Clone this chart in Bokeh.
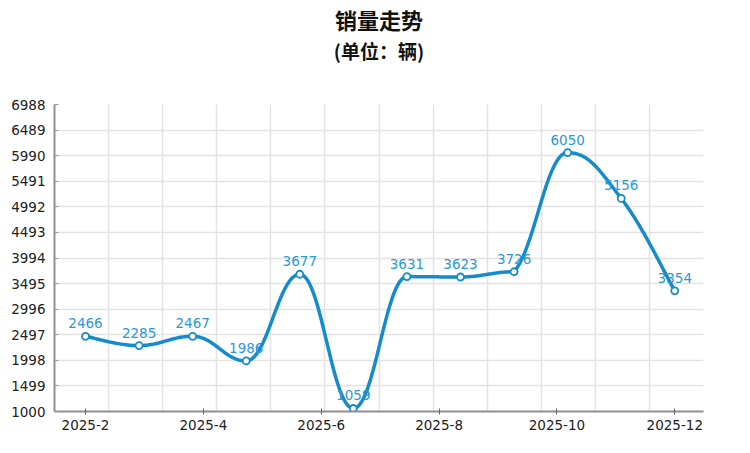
import numpy as np
from bokeh.plotting import figure
from bokeh.models import FixedTicker, Title, ColumnDataSource, Range1d
from bokeh.core.properties import value
from bokeh.embed import file_html
from bokeh.resources import INLINE

# ---- data ----
title_text = "销量走势"
subtitle_text = "(单位：辆)"
sales = [2466, 2285, 2467, 1986, 3677, 1059, 3631, 3623, 3726, 6050, 5156, 3354]
month_labels = ["2025-2", "2025-3", "2025-4", "2025-5", "2025-6", "2025-7",
                "2025-8", "2025-9", "2025-10", "2025-11", "2025-12"]
y_ticks = [1000, 1499, 1998, 2497, 2996, 3495, 3994, 4493, 4992, 5491, 5990, 6489, 6988]

LINE = "#168bcc"
LABEL = "#2b97d6"
FONT = "DejaVu Sans"
CJK = "Noto Sans CJK SC"

n = len(sales)
xs = list(range(n))
x_start, x_end = -0.579, 11.536

p = figure(width=750, height=453, output_backend="svg", toolbar_location=None,
           x_range=Range1d(x_start, x_end), y_range=Range1d(y_ticks[0], y_ticks[-1]),
           min_border_left=54, min_border_right=47, min_border_top=20, min_border_bottom=42)
p.outline_line_color = None
p.background_fill_color = "white"

# titles: main title outermost, subtitle below it, invisible spacer nearest the frame
p.title.text = title_text
p.title.text_font = CJK
p.title.text_font_style = "bold"
p.title.text_font_size = "22px"
p.title.text_color = "#111111"
p.title.align = "center"
p.title.standoff = 0
p.add_layout(Title(text=" ", text_font_size="1px", text_color="white",
                   standoff=38), "above")
p.add_layout(Title(text=subtitle_text, text_font=CJK, text_font_style="bold",
                   text_font_size="19px", text_color="#111111", align="center",
                   standoff=0), "above")

# axes
tick_pos = [k * (n - 1) / (len(month_labels) - 1) for k in range(len(month_labels))]
shown = tick_pos[::2]
p.xaxis.ticker = FixedTicker(ticks=shown)
p.xaxis.major_label_overrides = {t: month_labels[2 * i] for i, t in enumerate(shown)}
p.yaxis.ticker = FixedTicker(ticks=y_ticks)
for ax in (p.xaxis, p.yaxis):
    ax.axis_line_color = "#8f8f8f"
    ax.axis_line_width = 2
    ax.major_tick_line_color = "#666666"
    ax.minor_tick_line_color = None
    ax.major_label_text_font = FONT
    ax.major_label_text_font_size = "13.5px"
    ax.major_label_text_color = "#222222"
p.xaxis.major_tick_in = 3
p.xaxis.major_tick_out = 3
p.xaxis.major_label_standoff = 5
p.yaxis.major_tick_in = 4
p.yaxis.major_tick_out = 0
p.yaxis.major_tick_line_color = "#9a9a9a"
p.yaxis.major_label_standoff = 9

# grid
grid_x = [x_start + j * (x_end - x_start) / 12 for j in range(13)]
p.xgrid.ticker = FixedTicker(ticks=grid_x)
p.ygrid.ticker = FixedTicker(ticks=y_ticks)
p.grid.grid_line_color = "#e3e3e3"
p.grid.grid_line_width = 1.5

# smooth curve (uCharts-style control points)
P = list(zip(xs, sales))

def not_mid(k):
    if 0 < k < len(P) - 1:
        return P[k][1] >= max(P[k-1][1], P[k+1][1]) or P[k][1] <= min(P[k-1][1], P[k+1][1])
    return False

def ctrl(i):
    a = b = 0.2
    if i < 1:
        ax_ = P[0][0] + (P[1][0] - P[0][0]) * a
        ay_ = P[0][1] + (P[1][1] - P[0][1]) * a
    else:
        ax_ = P[i][0] + (P[i+1][0] - P[i-1][0]) * a
        ay_ = P[i][1] + (P[i+1][1] - P[i-1][1]) * a
    if i > len(P) - 3:
        last = len(P) - 1
        bx_ = P[last][0] - (P[last][0] - P[last-1][0]) * b
        by_ = P[last][1] - (P[last][1] - P[last-1][1]) * b
    else:
        bx_ = P[i+1][0] - (P[i+2][0] - P[i][0]) * b
        by_ = P[i+1][1] - (P[i+2][1] - P[i][1]) * b
    if not_mid(i + 1):
        by_ = P[i+1][1]
    if not_mid(i):
        ay_ = P[i][1]
    hi, lo = max(P[i][1], P[i+1][1]), min(P[i][1], P[i+1][1])
    if ay_ >= hi or ay_ <= lo:
        ay_ = P[i][1]
    if by_ >= hi or by_ <= lo:
        by_ = P[i+1][1]
    return ax_, ay_, bx_, by_

t = np.linspace(0, 1, 40)
cx, cy = [], []
for i in range(n - 1):
    ax_, ay_, bx_, by_ = ctrl(i)
    x0, y0 = P[i]
    x1, y1 = P[i+1]
    bxs = (1-t)**3*x0 + 3*(1-t)**2*t*ax_ + 3*(1-t)*t**2*bx_ + t**3*x1
    bys = (1-t)**3*y0 + 3*(1-t)**2*t*ay_ + 3*(1-t)*t**2*by_ + t**3*y1
    if i > 0:
        bxs, bys = bxs[1:], bys[1:]
    cx.extend(bxs.tolist()); cy.extend(bys.tolist())

p.line(cx, cy, line_color=LINE, line_width=3.5, line_cap="round", line_join="round")

src = ColumnDataSource(dict(x=xs, y=sales, t=[str(v) for v in sales]))
p.scatter("x", "y", source=src, size=7, fill_color="white", line_color=LINE, line_width=1.8)
p.text("x", "y", text="t", source=src, text_align="center", text_baseline="bottom",
       y_offset=-8, text_color=LABEL, text_font=value(FONT), text_font_size="13.5px")

open("out.html", "w").write(file_html(p, INLINE))
